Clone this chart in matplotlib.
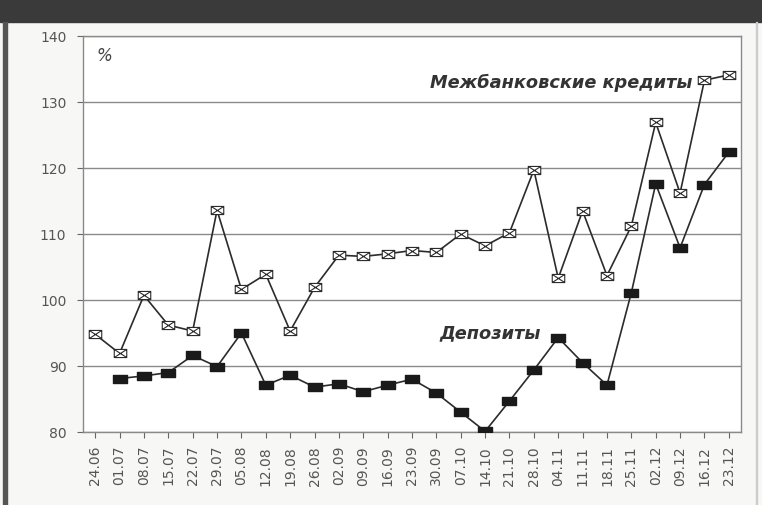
import matplotlib
matplotlib.use("Agg")
import matplotlib.pyplot as plt
from matplotlib.path import Path
from matplotlib.patches import Rectangle

dates = ["24.06", "01.07", "08.07", "15.07", "22.07", "29.07", "05.08", "12.08", "19.08",
         "26.08", "02.09", "09.09", "16.09", "23.09", "30.09", "07.10", "14.10", "21.10",
         "28.10", "04.11", "11.11", "18.11", "25.11", "02.12", "09.12", "16.12", "23.12"]

interbank = [94.8, 91.9, 100.7, 96.2, 95.3, 113.6, 101.6, 103.9, 95.3, 101.9, 106.8, 106.6,
             107.0, 107.5, 107.2, 110.0, 108.2, 110.2, 119.7, 103.3, 113.5, 103.7, 111.2,
             126.9, 116.2, 133.3, 134.1]
deposits = [None, 88.1, 88.5, 89.0, 91.6, 89.9, 95.0, 87.1, 88.6, 86.8, 87.3, 86.1, 87.1,
            88.0, 85.9, 83.0, 80.1, 84.7, 89.4, 94.3, 90.5, 87.1, 101.1, 117.6, 107.9,
            117.5, 122.4]

yticks = [80, 90, 100, 110, 120, 130, 140]
label_interbank = "Межбанковские кредиты"
label_deposits = "Депозиты"

fig = plt.figure(figsize=(7.62, 5.05), dpi=100)
fig.patch.set_facecolor("#f7f7f5")

# decorative frame: dark header band and left bar
fig.add_artist(Rectangle((0, 1 - 22 / 505), 1, 22 / 505, transform=fig.transFigure,
                         color="#3a3a3a", zorder=0))
fig.add_artist(Rectangle((3 / 762, 0), 4 / 762, 1 - 22 / 505, transform=fig.transFigure,
                         color="#555555", zorder=0))
fig.add_artist(Rectangle((756 / 762, 0), 1 / 762, 1 - 22 / 505, transform=fig.transFigure,
                         color="#cccccc", zorder=0))

ax = fig.add_axes([83 / 762, 1 - 432 / 505, (741 - 83) / 762, (432 - 36) / 505])
ax.set_facecolor("white")

x = list(range(len(dates)))

# rectangular marker shapes
rect_verts = [(-1, -0.65), (1, -0.65), (1, 0.65), (-1, 0.65), (-1, -0.65)]
rect_codes = [Path.MOVETO, Path.LINETO, Path.LINETO, Path.LINETO, Path.CLOSEPOLY]
filled_marker = Path(rect_verts, rect_codes)
hatch_verts = rect_verts + [(-1, -0.65), (1, 0.65), (-1, 0.65), (1, -0.65)]
hatch_codes = rect_codes + [Path.MOVETO, Path.LINETO, Path.MOVETO, Path.LINETO]
hollow_marker = Path(hatch_verts, hatch_codes)

ax.plot(x, interbank, color="#2b2b2b", lw=1.2, marker=hollow_marker, markersize=9,
        markerfacecolor="white", markeredgecolor="#2b2b2b", markeredgewidth=0.8, zorder=3)
dx = [xi for xi, v in zip(x, deposits) if v is not None]
dv = [v for v in deposits if v is not None]
ax.plot(dx, dv, color="#2b2b2b", lw=1.2, marker=filled_marker, markersize=9.5,
        markerfacecolor="#1a1a1a", markeredgecolor="#1a1a1a", zorder=3)

ax.set_xlim(-0.5, len(dates) - 0.5)
ax.set_ylim(80, 140)
ax.set_yticks(yticks)
ax.set_yticklabels([str(v) for v in yticks])
ax.set_xticks(x)
ax.set_xticklabels(dates, rotation=90)
ax.tick_params(axis="both", colors="#666666", labelcolor="#555555", labelsize=10,
               length=4, width=0.8, direction="out")
ax.tick_params(axis="x", pad=6)
ax.tick_params(axis="y", pad=8)
ax.grid(axis="y", color="#8a8a8a", lw=1.0)
ax.set_axisbelow(True)
for s in ax.spines.values():
    s.set_color("#8a8a8a")
    s.set_linewidth(1.0)

ax.text(0.02, 0.95, "%", transform=ax.transAxes, fontsize=12, style="italic",
        color="#444444", ha="left", va="center")
ax.text(24.5, 132.9, label_interbank, fontsize=12.8, fontweight="bold", style="italic",
        color="#333333", ha="right", va="center", zorder=4)
ax.text(18.3, 94.9, label_deposits, fontsize=12.8, fontweight="bold", style="italic",
        color="#333333", ha="right", va="center", zorder=4)

fig.savefig("out.png", dpi=100, facecolor=fig.get_facecolor())
